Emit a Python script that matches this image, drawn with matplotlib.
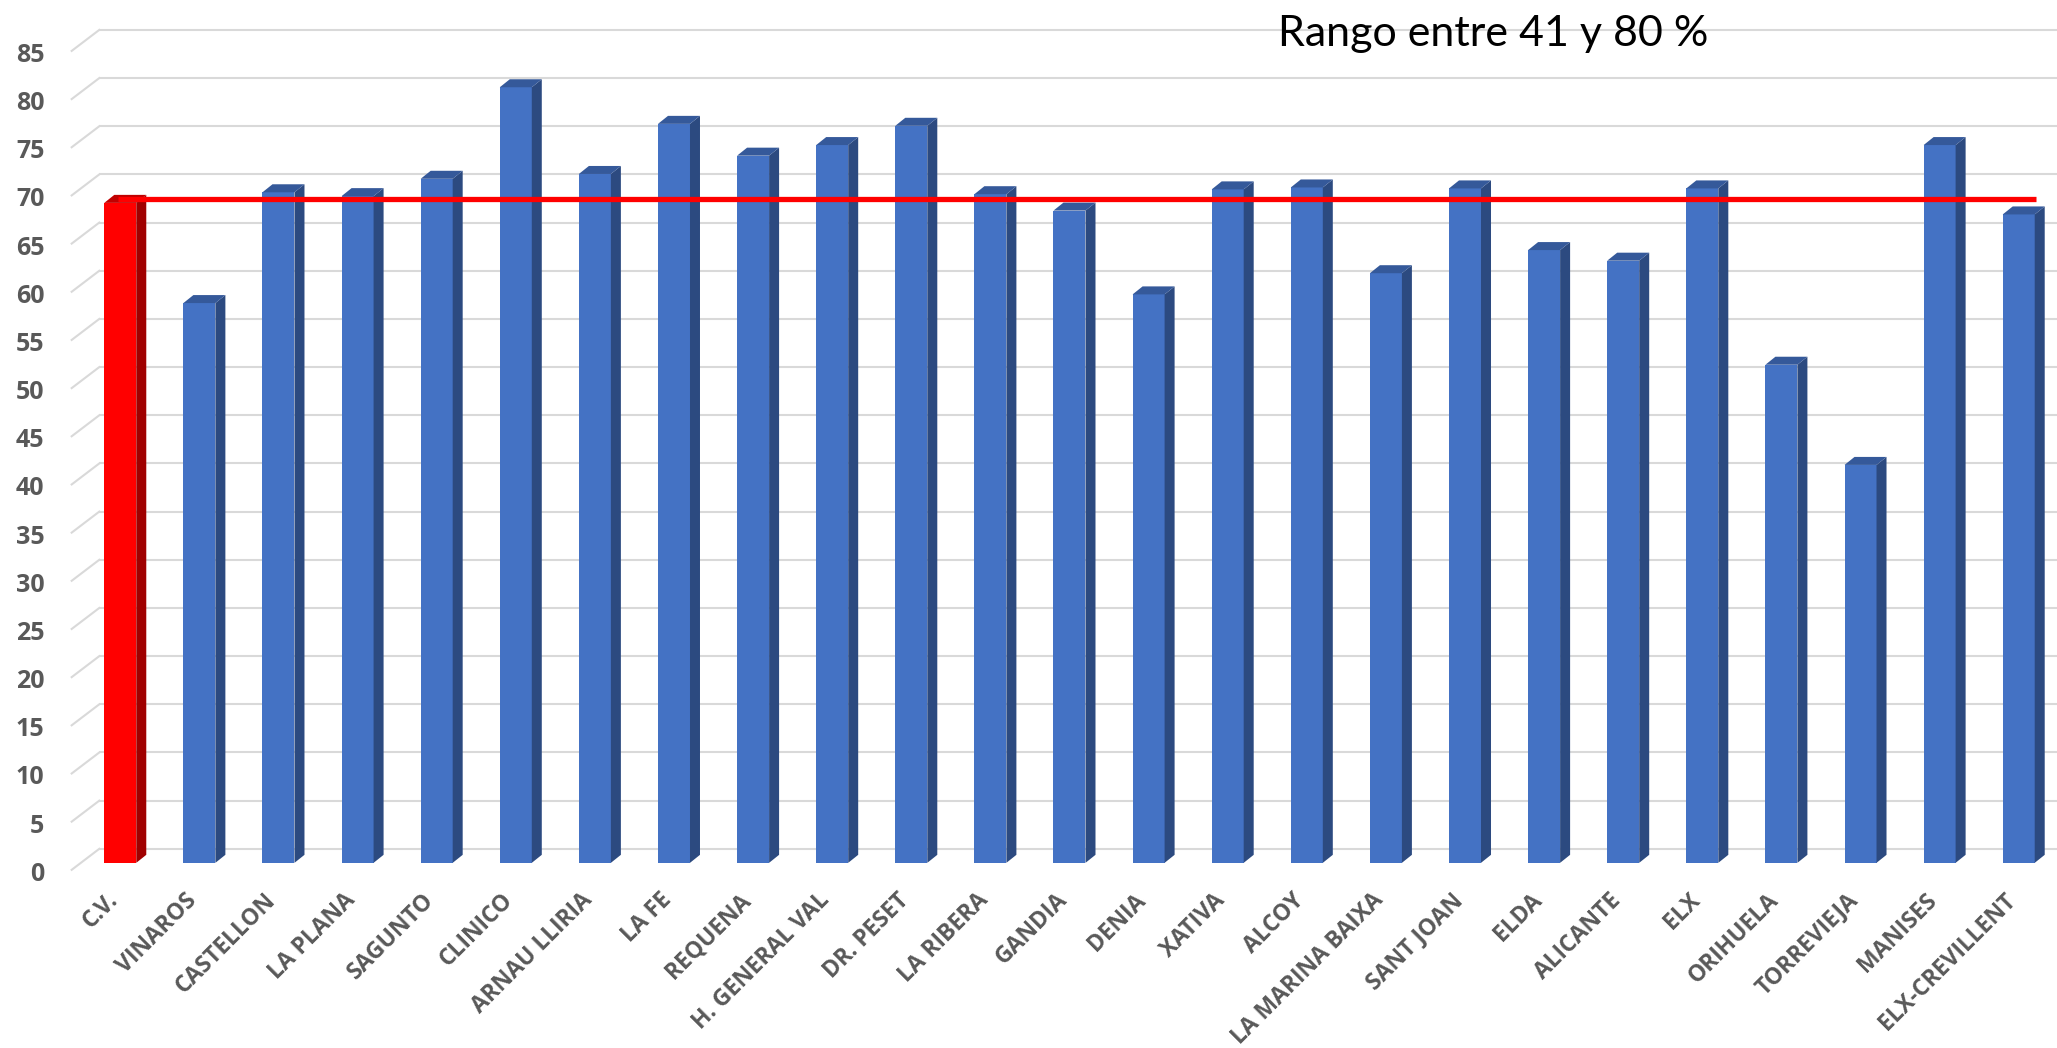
import numpy as np
import matplotlib.pyplot as plt
from matplotlib.patches import Polygon

# Porcentaje por departamento de salud (C.V. = media de la Comunitat)
hospitales = ["C.V.", "VINAROS", "CASTELLON", "LA PLANA", "SAGUNTO", "CLINICO",
              "ARNAU LLIRIA", "LA FE", "REQUENA", "H. GENERAL VAL", "DR. PESET",
              "LA RIBERA", "GANDIA", "DENIA", "XATIVA", "ALCOY", "LA MARINA BAIXA",
              "SANT JOAN", "ELDA", "ALICANTE", "ELX", "ORIHUELA", "TORREVIEJA",
              "MANISES", "ELX-CREVILLENT"]
porcentajes = [68.5, 58.1, 69.6, 69.2, 71.0, 80.5, 71.5, 76.7, 73.4, 74.5, 76.5,
               69.4, 67.7, 59.0, 69.9, 70.1, 61.2, 70.0, 63.6, 62.5, 70.0, 51.7,
               41.3, 74.5, 67.3]
media_cv = porcentajes[0]
marcas_y = list(range(0, 90, 5))
titulo = "Rango entre 41 y 80 %"

W, H = 2057, 1048
fig = plt.figure(figsize=(W / 100, H / 100), dpi=100)
fig.patch.set_facecolor("white")

# ejes en pixeles: izquierda, abajo, ancho, alto
ax_l, ax_b, ax_w, ax_h = 60, 137, 1997, 896
ax = fig.add_axes([ax_l / W, ax_b / H, ax_w / W, ax_h / H])
xmin, xmax = -0.762, 24.484
ymin, ymax = -5, 88
ax.set_xlim(xmin, xmax)
ax.set_ylim(ymin, ymax)
ax.axis("off")

sx = ax_w / (xmax - xmin)   # px por categoria
sy = ax_h / (ymax - ymin)   # px por unidad

# efecto 3D: profundidad de la barra y de la pared del fondo (en px)
ddx, ddy = 10 / sx, 8 / sy
pared_dy = 14.0 / sy
suelo_dy = -7.0 / sy
gris_rejilla = "#D9D9D9"
gris_texto = "#595959"
fuente = "Open Sans"

# rejilla en la pared del fondo + diagonales del suelo
for v in marcas_y:
    ax.plot([-21 / sx, xmax], [v + pared_dy] * 2, color=gris_rejilla,
            lw=1.5, zorder=1, solid_capstyle="butt", clip_on=False)
    ax.plot([-21 / sx, -48.6 / sx], [v + pared_dy, v + suelo_dy],
            color=gris_rejilla, lw=1.5, zorder=1, clip_on=False)
    ax.text(-76 / sx, v + suelo_dy - 1.5 / sy, str(v), ha="right",
            va="center_baseline", fontsize=18, fontweight="bold",
            color=gris_texto, family=fuente)

x = np.arange(len(hospitales))
bw = 32 / sx
frente = ["#FF0000"] + ["#4472C4"] * (len(x) - 1)
lateral = ["#A00000"] + ["#2C4A80"] * (len(x) - 1)
tapa = ["#C00000"] + ["#35599A"] * (len(x) - 1)

ax.bar(x, porcentajes, width=bw, color=frente, linewidth=0, zorder=3)
for xi, v, cl, ct in zip(x, porcentajes, lateral, tapa):
    r = xi + bw / 2
    l = xi - bw / 2
    ax.add_patch(Polygon([(r, 0), (r + ddx, ddy), (r + ddx, v + ddy), (r, v)],
                         closed=True, color=cl, lw=0, zorder=3))
    ax.add_patch(Polygon([(l, v), (r, v), (r + ddx, v + ddy), (l + ddx, v + ddy)],
                         closed=True, color=ct, lw=0, zorder=3))

# linea de la media de la Comunitat
ax.plot([x[0] - 0.03, x[-1] + 0.22], [media_cv + ddy / 2] * 2, color="#FF0000",
        lw=3.8, solid_capstyle="butt", zorder=5)

# etiquetas del eje x
for xi, nombre in zip(x, hospitales):
    ax.text(xi - 6 / sx, -34 / sy, nombre, rotation=45, rotation_mode="anchor",
            ha="right", va="center", fontsize=16.5, fontweight="bold",
            color=gris_texto, family=fuente, clip_on=False)

fig.text(1278 / W, 1 - 46 / H, titulo, fontsize=31, family="Lato",
         color="black", va="baseline", ha="left")

fig.savefig("out.png", dpi=100)
